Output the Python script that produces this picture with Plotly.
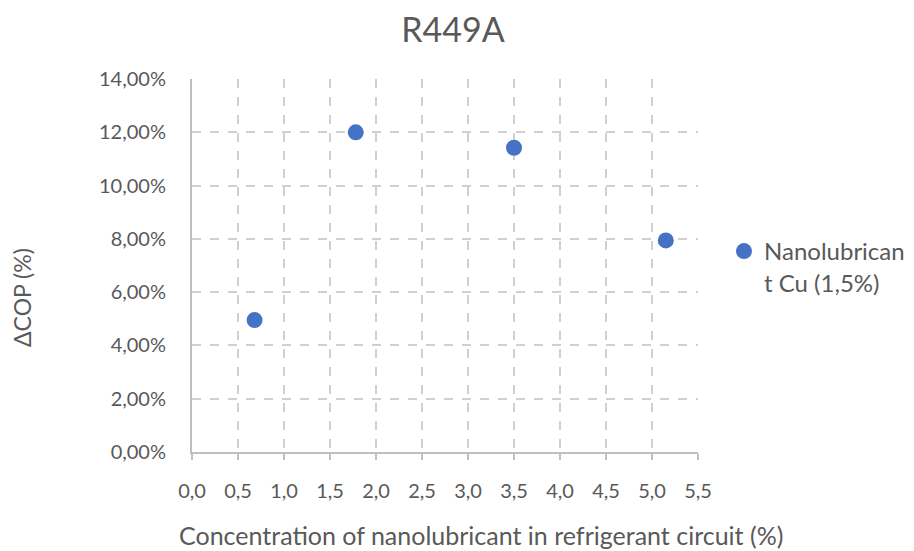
import plotly.graph_objects as go

concentration = [0.68, 1.78, 3.50, 5.15]
delta_cop = [0.0495, 0.1200, 0.1142, 0.0794]
series_name = "Nanolubrican<br>t Cu (1,5%)"
x_ticks = [0, 0.5, 1, 1.5, 2, 2.5, 3, 3.5, 4, 4.5, 5, 5.5]
x_tick_labels = ["0,0", "0,5", "1,0", "1,5", "2,0", "2,5", "3,0", "3,5", "4,0", "4,5", "5,0", "5,5"]
y_ticks = [0, 0.02, 0.04, 0.06, 0.08, 0.10, 0.12, 0.14]
y_tick_labels = ["0,00%", "2,00%", "4,00%", "6,00%", "8,00%", "10,00%", "12,00%", "14,00%"]

FONT = "Lato"
TXT = "#595959"
GRID = "#d0d0d0"
AXIS = "#bfbfbf"

# page body offset (8px) compensation: reference pixel coords minus 8
OFF = 8
W, H = 914 - OFF, 551 - OFF
L, R, T, B = 192 - OFF, 698 - OFF, 79 - OFF, 452 - OFF
PW, PH = R - L, B - T


def px(xr):
    return (xr - OFF - L) / PW


def py(yr):
    return (B - (yr - OFF)) / PH


fig = go.Figure()
fig.add_trace(go.Scatter(
    x=concentration, y=delta_cop, mode="markers", name=series_name,
    marker=dict(color="#4472C4", size=16, line=dict(width=0)),
))

fig.update_layout(
    width=W, height=H,
    paper_bgcolor="white", plot_bgcolor="white",
    margin=dict(l=L, r=W - R, t=T, b=H - B, autoexpand=False),
    font=dict(family=FONT, color=TXT, size=20),
    title=dict(text="R449A", x=(453 - OFF) / W, xanchor="center",
               y=1 - (30 - OFF) / H, yanchor="middle",
               font=dict(family=FONT, size=34, color=TXT)),
    showlegend=True,
    legend=dict(x=px(724), y=py(229), yanchor="top", xanchor="left",
                font=dict(family=FONT, size=24, color=TXT), valign="top",
                itemwidth=30, tracegroupgap=0, bgcolor="rgba(0,0,0,0)"),
    xaxis=dict(range=[0, 5.5], tickvals=x_ticks, ticktext=x_tick_labels,
               showgrid=True, gridcolor=GRID, griddash="dash", gridwidth=1.5,
               showline=True, linecolor=AXIS, linewidth=2,
               ticks="outside", ticklen=6, tickcolor=AXIS, tickwidth=2,
               ticklabelstandoff=14,
               tickfont=dict(family=FONT, size=20, color=TXT), zeroline=False,
               fixedrange=True),
    yaxis=dict(range=[0, 0.14], tickvals=y_ticks, ticktext=y_tick_labels,
               showgrid=True, gridcolor=GRID, griddash="dash", gridwidth=1.5,
               showline=True, linecolor=AXIS, linewidth=2,
               ticks="", ticklabelstandoff=20,
               tickfont=dict(family=FONT, size=20, color=TXT), zeroline=False,
               fixedrange=True),
)

fig.add_annotation(text="Concentration of nanolubricant in refrigerant circuit (%)",
                   xref="paper", yref="paper",
                   x=px(481), y=py(535),
                   xanchor="center", yanchor="middle", showarrow=False,
                   font=dict(family=FONT, size=25, color=TXT))
fig.add_annotation(text="ΔCOP (%)", textangle=-90,
                   xref="paper", yref="paper",
                   x=px(22), y=py(298),
                   xanchor="center", yanchor="middle", showarrow=False,
                   font=dict(family=FONT, size=23, color=TXT))

fig.write_html("out.html")
